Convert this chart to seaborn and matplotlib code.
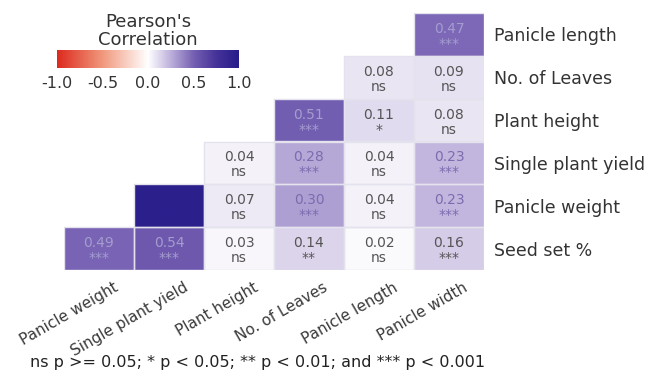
import numpy as np
import pandas as pd
import matplotlib
matplotlib.use("Agg")
import matplotlib.pyplot as plt
import matplotlib.transforms as mtransforms
from matplotlib.colors import LinearSegmentedColormap, Normalize
from matplotlib.patches import Rectangle
import seaborn as sns

sns.set_theme(style="white")
plt.rcParams["font.family"] = ["DejaVu Sans"]

nan = np.nan

# Trait order along the two axes
row_traits = ["Panicle length", "No. of Leaves", "Plant height",
              "Single plant yield", "Panicle weight", "Seed set %"]
col_traits = ["Panicle weight", "Single plant yield", "Plant height",
              "No. of Leaves", "Panicle length", "Panicle width"]

# Pearson r for each row trait against the column traits (lower triangle only)
r_panicle_length = [nan, nan, nan, nan, nan, 0.47]
r_no_leaves = [nan, nan, nan, nan, 0.08, 0.09]
r_plant_height = [nan, nan, nan, 0.51, 0.11, 0.08]
r_single_yield = [nan, nan, 0.04, 0.28, 0.04, 0.23]
r_panicle_weight = [nan, 0.96, 0.07, 0.30, 0.04, 0.23]
r_seed_set = [0.49, 0.54, 0.03, 0.14, 0.02, 0.16]

# Significance codes
s_panicle_length = ["", "", "", "", "", "***"]
s_no_leaves = ["", "", "", "", "ns", "ns"]
s_plant_height = ["", "", "", "***", "*", "ns"]
s_single_yield = ["", "", "ns", "***", "ns", "***"]
s_panicle_weight = ["", "***", "ns", "***", "ns", "***"]
s_seed_set = ["***", "***", "ns", "**", "ns", "***"]

colorbar_ticks = [-1.0, -0.5, 0.0, 0.5, 1.0]
legend_title = "Pearson's\nCorrelation"
footnote = "ns p >= 0.05; * p < 0.05; ** p < 0.01; and *** p < 0.001"

corr = pd.DataFrame([r_panicle_length, r_no_leaves, r_plant_height,
                     r_single_yield, r_panicle_weight, r_seed_set],
                    index=row_traits, columns=col_traits)
sig = pd.DataFrame([s_panicle_length, s_no_leaves, s_plant_height,
                    s_single_yield, s_panicle_weight, s_seed_set],
                   index=row_traits, columns=col_traits)

cmap = LinearSegmentedColormap.from_list(
    "pearson",
    [(0.0, "#DC2A1E"), (0.25, "#F0987C"), (0.5, "#FFFFFF"),
     (0.625, "#BDB0DB"), (0.75, "#7560B2"), (0.875, "#463399"),
     (1.0, "#261B8A")])

fig = plt.figure(figsize=(6.52, 3.77), dpi=100)
ax = fig.add_axes([64 / 652, 1 - 270 / 377, 420 / 652, 257 / 377])

sns.heatmap(corr, ax=ax, cmap=cmap, vmin=-1, vmax=1, cbar=False,
            mask=corr.isna(), linewidths=0, square=False)


def text_colour(v):
    if v > 0.9:
        return "#2C1F8E"
    if v > 0.4:
        return "#A59CD0"
    if v > 0.2:
        return "#7C6BAF"
    return "#555555"


for i, rname in enumerate(row_traits):
    for j, cname in enumerate(col_traits):
        v = corr.loc[rname, cname]
        if np.isnan(v):
            continue
        # thin light border around each filled cell
        ax.add_patch(Rectangle((j, i), 1, 1, fill=False,
                               edgecolor="#E4E2EC", linewidth=1.0))
        c = text_colour(v)
        ax.text(j + 0.5, i + 0.37, f"{v:.2f}", ha="center", va="center",
                fontsize=10, color=c)
        ax.text(j + 0.5, i + 0.72, sig.loc[rname, cname], ha="center",
                va="center", fontsize=10, color=c)

ax.yaxis.tick_right()
ax.set_yticklabels(row_traits, rotation=0, fontsize=12.5, color="#333333")
ax.set_xticklabels(col_traits, rotation=30, ha="right", va="top",
                   rotation_mode="anchor", fontsize=11, color="#3a3a3a")
ax.tick_params(axis="y", length=0, pad=7)
ax.tick_params(axis="x", length=0, pad=7)
shift = mtransforms.ScaledTranslation(14 / 100, 0, fig.dpi_scale_trans)
for lbl in ax.get_xticklabels():
    lbl.set_transform(lbl.get_transform() + shift)
ax.set_xlabel("")
ax.set_ylabel("")
for sp in ax.spines.values():
    sp.set_visible(False)

# Horizontal colour legend in the empty upper-left triangle
cax = fig.add_axes([57 / 652, 1 - 68 / 377, 182 / 652, 18 / 377])
sm = plt.cm.ScalarMappable(norm=Normalize(-1, 1), cmap=cmap)
cb = fig.colorbar(sm, cax=cax, orientation="horizontal", ticks=colorbar_ticks)
cb.outline.set_visible(False)
cb.ax.set_xticklabels([f"{t:.1f}" for t in colorbar_ticks], fontsize=11.5,
                      color="#333333")
cb.ax.tick_params(axis="x", direction="in", colors="white", length=3,
                  width=1, top=True, pad=6, labelcolor="#333333")
fig.text(148 / 652, 1 - 31 / 377, legend_title, ha="center", va="center",
         fontsize=13, color="#333333", linespacing=0.95)

fig.text(30 / 652, 1 - 362 / 377, footnote, ha="left", va="center",
         fontsize=11.5, color="#222222")

fig.savefig("out.png", dpi=100, facecolor="white")
